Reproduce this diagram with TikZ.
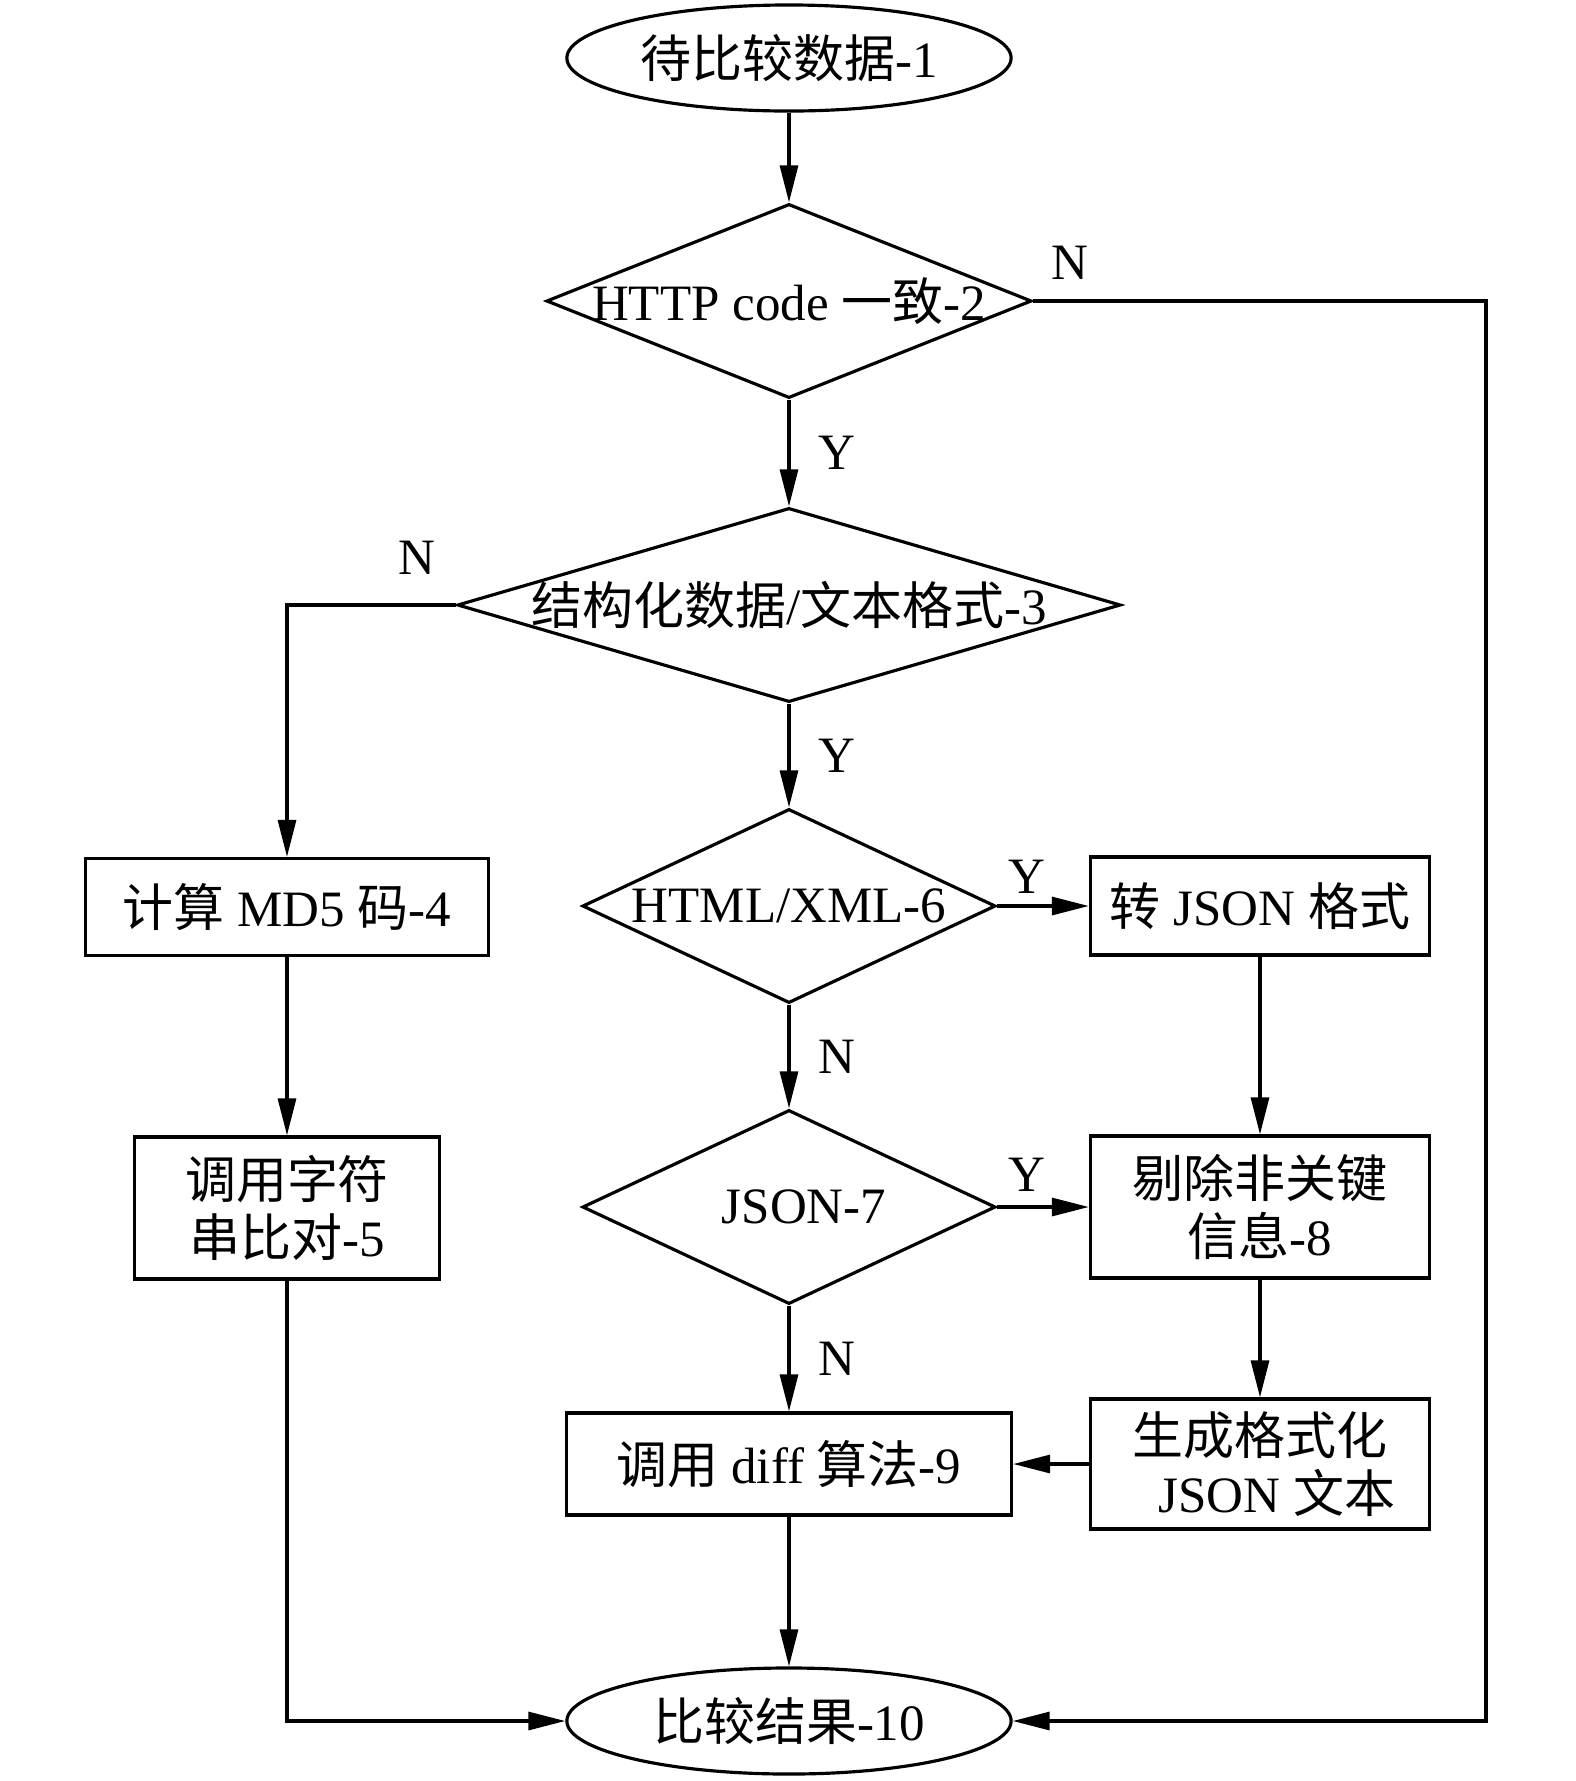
\documentclass[tikz,border=0pt]{standalone}
\usepackage{fontspec}
\setmainfont{Liberation Serif}
\newfontfamily\cjk{Noto Sans CJK SC}
\newcommand{\zh}[1]{{\cjk #1}}
\usetikzlibrary{shapes.geometric,arrows.meta,positioning}
\tikzset{
  base/.style={draw, line width=0.9pt, font=\fontsize{14.5}{16.5}\selectfont, align=center, inner sep=0pt},
  startstop/.style={base, ellipse, minimum width=4.44cm, minimum height=1.06cm},
  decision/.style={base, diamond, minimum height=1.94cm},
  process/.style={base, rectangle},
  arr/.style={line width=0.9pt, -{Triangle[length=0.37cm,width=0.18cm]}},
  lbl/.style={font=\fontsize{14.5}{16.5}\selectfont, inner sep=0pt},
  every label/.style={lbl, align=center}
}
\begin{document}
\begin{tikzpicture}[x=0.01cm, y=-0.01cm]
    \useasboundingbox (0,0) rectangle (1575,1781);

    % start and end
    \node[startstop] (start) at (789,58) {\zh{待比较数据}-1};
    \node[startstop] (end) at (789,1721) {\zh{比较结果}-10};

    % decisions
    \node[decision, minimum width=4.85cm, label=center:{HTTP code \zh{一致}-2}] (http) at (789,301) {};
    \node[decision, minimum width=6.63cm, label=center:{\zh{结构化数据}/\zh{文本格式}-3}] (fmt) at (789,605) {};
    \node[decision, minimum width=4.13cm, label=center:{HTML/XML-6}] (html) at (789,906) {};
    \node[decision, minimum width=4.13cm, label={[xshift=0.15cm]center:{JSON-7}}] (json) at (789,1207) {};

    % left branch
    \node[process, minimum width=4.02cm, minimum height=0.97cm] (md5) at (287,907) {\zh{计算} MD5 \zh{码}-4};
    \node[process, minimum width=3.04cm, minimum height=1.42cm] (strcmp) at (287,1208) {\zh{调用字符}\\\zh{串比对}-5};

    % right branch
    \node[process, minimum width=3.39cm, minimum height=0.98cm] (tojson) at (1260,906) {\zh{转} JSON \zh{格式}};
    \node[process, minimum width=3.39cm, minimum height=1.42cm] (strip) at (1260,1207) {\zh{剔除非关键}\\\zh{信息}-8};
    \node[process, minimum width=3.39cm, minimum height=1.30cm] (pretty) at (1260,1464) {\zh{生成格式化}\\\hspace*{0.34cm}JSON \zh{文本}};
    \node[process, minimum width=4.45cm, minimum height=1.02cm] (diff) at (789,1464) {\zh{调用} diff \zh{算法}-9};

    \coordinate (rt) at (1486,301);

    % connectors
    \draw[arr] (start) -- (http);
    \draw[arr] (http.east) -- node[lbl, pos=0.08, above=0.2cm] {N} (rt) |- (end.east);
    \draw[arr] (http) -- node[lbl, right=0.28cm] {Y} (fmt);
    \draw[arr] (fmt.west) -| node[lbl, pos=0.115, above=0.29cm] {N} (md5.north);
    \draw[arr] (fmt) -- node[lbl, right=0.28cm] {Y} (html);
    \draw[arr] (html) -- node[lbl, pos=0.32, above=0.11cm] {Y} (tojson);
    \draw[arr] (html) -- node[lbl, right=0.28cm] {N} (json);
    \draw[arr] (json) -- node[lbl, pos=0.32, above=0.14cm] {Y} (strip);
    \draw[arr] (json) -- node[lbl, right=0.28cm] {N} (diff);
    \draw[arr] (tojson) -- (strip);
    \draw[arr] (strip) -- (pretty);
    \draw[arr] (pretty) -- (diff);
    \draw[arr] (diff) -- (end);
    \draw[arr] (md5) -- (strcmp);
    \draw[arr] (strcmp.south) |- (end.west);

\end{tikzpicture}
\end{document}
